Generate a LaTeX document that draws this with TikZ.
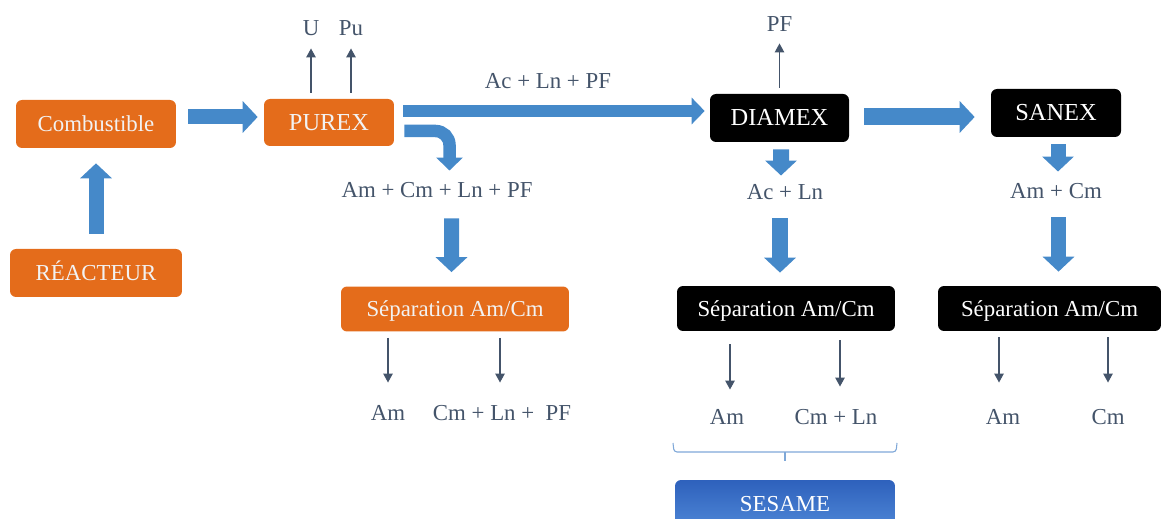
\documentclass[tikz,border=0pt]{standalone}
\usepackage{fontspec}
\setmainfont{Liberation Serif}
\usetikzlibrary{arrows.meta}

\definecolor{pxorange}{HTML}{E46C1B}
\definecolor{arrowblue}{HTML}{4589C9}
\definecolor{slate}{HTML}{44546A}
\definecolor{bracecol}{HTML}{7FA8D8}
\definecolor{sesametop}{HTML}{2E61BC}
\definecolor{sesamebot}{HTML}{4E86D6}

\tikzset{
    procbox/.style={rounded corners=0.12cm, minimum height=0.96cm, inner sep=4.3pt, text height=8.6pt, text depth=0pt, font=\fontsize{13}{15}\selectfont},
    bigname/.style={font=\fontsize{13.9}{16}\selectfont},
    orangebox/.style={procbox, fill=pxorange, text=white!95!black},
    blackbox/.style={procbox, fill=black, text=white},
    flowlabel/.style={text=slate, inner sep=4.3pt, text height=8.6pt, text depth=0pt, font=\fontsize{13}{15}\selectfont},
    bigarrow/.style={draw=arrowblue, line width=0.3cm, -{Triangle[length=0.3cm,width=0.62cm]}},
    slimarrow/.style={draw=arrowblue, line width=0.25cm, -{Triangle[length=0.26cm,width=0.52cm]}},
    thinarrow/.style={draw=slate, line width=0.7pt, -{Triangle[length=0.18cm,width=0.19cm]}}
}

\begin{document}
\begin{tikzpicture}[x=0.02cm,y=-0.02cm]
            \clip (0,0) rectangle (1162,519);
            \node[orangebox, minimum width=3.2cm] (comb) at (96,124) {Combustible};
            \node[orangebox, minimum width=3.44cm] (reac) at (96,273) {RÉACTEUR};
            \node[orangebox, bigname, minimum width=2.6cm, minimum height=0.94cm] (purex) at (329,122.5) {PUREX};
            \node[blackbox, bigname, minimum width=2.78cm] (diamex) at (779.5,118) {DIAMEX};
            \node[blackbox, bigname, minimum width=2.6cm] (sanex) at (1056,113) {SANEX};
            \node[orangebox, minimum width=4.56cm, minimum height=0.9cm] (sep1) at (455,309) {Séparation Am/Cm};
            \node[blackbox, minimum width=4.36cm, minimum height=0.9cm] (sep2) at (786,308.5) {Séparation Am/Cm};
            \node[blackbox, minimum width=4.46cm, minimum height=0.9cm] (sep3) at (1049.5,308.5) {Séparation Am/Cm};
            \node[procbox, top color=sesametop, bottom color=sesamebot, text=white, minimum width=4.4cm] (sesame) at (785,504) {SESAME};

            \node[flowlabel] (u) at (311,28) {U};
            \node[flowlabel] (pu) at (351,28) {Pu};
            \node[flowlabel] (mix) at (437,190) {Am + Cm + Ln + PF};
            \node[flowlabel] (pf) at (779.5,24) {PF};
            \node[flowlabel] (acln) at (785,192) {Ac + Ln};
            \node[flowlabel] (amcm) at (1056,191) {Am + Cm};
            \node[flowlabel] (am1) at (388,413) {Am};
            \node[flowlabel] (rest1) at (502,413) {Cm + Ln + \ PF};
            \node[flowlabel] (am2) at (727,417) {Am};
            \node[flowlabel] (cmln) at (836,417) {Cm + Ln};
            \node[flowlabel] (am3) at (1003,417) {Am};
            \node[flowlabel] (cm3) at (1108,417) {Cm};

            \draw[bigarrow, shorten <=0.3cm, shorten >=0.3cm] (reac) -- (comb);
            \draw[bigarrow] ([shift={(12,-7)}]comb.east) -- ([shift={(-6,-5.5)}]purex.west);
            \draw[slimarrow] ([shift={(9,-11.5)}]purex.east) -- node[flowlabel, pos=0.48, above=0.18cm] (acpf) {Ac + Ln + PF} ([shift={(-5,-7)}]diamex.west);
            \draw[slimarrow, rounded corners=0.28cm] ([shift={(10,8.5)}]purex.east) -| ([shift={(12.5,-4)}]mix.north);
            \draw[bigarrow] ([shift={(14.5,13)}]mix.south) -- ([shift={(-3.5,-14)}]sep1.north);
            \draw[bigarrow, line width=0.34cm] ([shift={(15,-1)}]diamex.east) -- ([shift={(-16,4)}]sanex.west);
            \draw[bigarrow, line width=0.32cm] ([shift={(1.5,7)}]diamex.south) -- ([shift={(-4,-1)}]acln.north);
            \draw[bigarrow] ([shift={(2,7)}]sanex.south) -- ([shift={(2,-4)}]amcm.north);
            \draw[bigarrow, line width=0.32cm] ([shift={(-5,11)}]acln.south) -- ([shift={(-6,-13)}]sep2.north);
            \draw[bigarrow] ([shift={(2.5,11)}]amcm.south) -- ([shift={(9,-14)}]sep3.north);

            \draw[thinarrow, shorten <=0.12cm, shorten >=0.1cm] (purex.north -| u) -- (u.south);
            \draw[thinarrow, shorten <=0.12cm, shorten >=0.1cm] (purex.north -| pu) -- (pu.south);
            \draw[thinarrow, shorten <=0.12cm, shorten >=0.08cm] (diamex.north -| pf) -- (pf.south);
            \draw[thinarrow, shorten <=0.12cm, shorten >=0.3cm] (sep1.south -| am1) -- (am1.north);
            \draw[thinarrow, shorten <=0.12cm, shorten >=0.3cm] ([xshift=-0.04cm]sep1.south -| rest1) -- ([xshift=-0.04cm]rest1.north);
            \draw[thinarrow, shorten <=0.26cm, shorten >=0.24cm] ([xshift=0.06cm]sep2.south -| am2) -- ([xshift=0.06cm]am2.north);
            \draw[thinarrow, shorten <=0.18cm, shorten >=0.3cm] ([xshift=0.08cm]sep2.south -| cmln) -- ([xshift=0.08cm]cmln.north);
            \draw[thinarrow, shorten <=0.12cm, shorten >=0.38cm] ([xshift=-0.08cm]sep3.south -| am3) -- ([xshift=-0.08cm]am3.north);
            \draw[thinarrow, shorten <=0.12cm, shorten >=0.38cm] (sep3.south -| cm3) -- (cm3.north);

            \coordinate (braceL) at (673,443);
            \coordinate (braceR) at (897,443);
            \coordinate (braceM) at (785,461);
            \draw[bracecol, line width=0.6pt, rounded corners=0.06cm] (braceL) -- ++(1,9) -- ++(222,0) -- (braceR);
            \draw[bracecol, line width=0.6pt] (braceM) -- ++(0,-9);
        \end{tikzpicture}
\end{document}
